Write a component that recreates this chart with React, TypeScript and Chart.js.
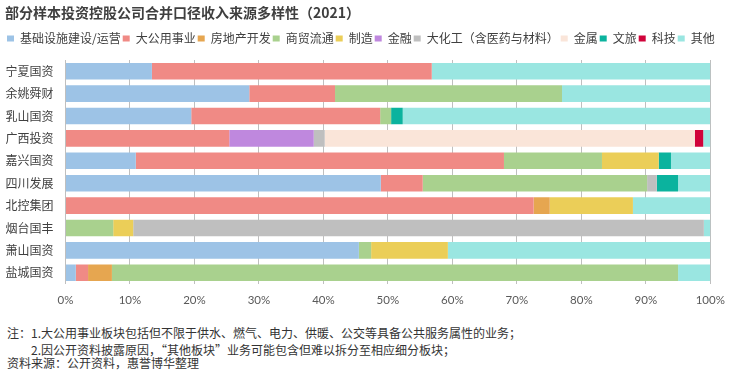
import React, { useEffect, useRef } from 'react';
import { Chart, registerables } from 'chart.js';

Chart.register(...registerables);

const TITLE = '部分样本投资控股公司合并口径收入来源多样性（2021）';

const categories = ['宁夏国资', '余姚舜财', '乳山国资', '广西投资', '嘉兴国资', '四川发展', '北控集团', '烟台国丰', '萧山国资', '盐城国资'];

const seriesNames = ['基础设施建设/运营', '大公用事业', '房地产开发', '商贸流通', '制造', '金融', '大化工（含医药与材料）', '金属', '文旅', '科技', '其他'];
const seriesColors = ['#9DC3E6', '#F08A85', '#E6A650', '#A9D18E', '#EBCE58', '#BF88DE', '#BFBFBF', '#FAE5D9', '#0BB39E', '#D0033A', '#9AE6E1'];

const infra = [13.4, 28.5, 19.5, 0, 10.9, 48.9, 0, 0, 45.5, 1.6];
const utilities = [43.4, 13.3, 29.3, 25.4, 57.1, 6.5, 72.6, 0, 0, 1.9];
const realEstate = [0, 0, 0, 0, 0, 0, 2.5, 0, 0, 3.7];
const trade = [0, 35.2, 1.7, 0, 15.2, 34.8, 0, 7.4, 1.9, 87.8];
const manufacturing = [0, 0, 0, 0, 8.8, 0, 12.9, 3.1, 11.9, 0];
const finance = [0, 0, 0, 13.1, 0, 0, 0, 0, 0, 0];
const chemicals = [0, 0, 0, 1.7, 0, 1.5, 0, 88.5, 0, 0];
const metals = [0, 0, 0, 57.4, 0, 0, 0, 0, 0, 0];
const tourism = [0, 0, 1.8, 0, 1.9, 3.3, 0, 0, 0, 0];
const technology = [0, 0, 0, 1.3, 0, 0, 0, 0, 0, 0];
const others = [43.2, 23.0, 47.7, 1.1, 6.1, 5.0, 12.0, 1.0, 40.7, 5.0];

const xTicks = [0, 10, 20, 30, 40, 50, 60, 70, 80, 90, 100];

const notes = [
  '1.大公用事业板块包括但不限于供水、燃气、电力、供暖、公交等具备公共服务属性的业务；',
  '2.因公开资料披露原因，“其他板块”业务可能包含但难以拆分至相应细分板块；',
];
const sourceText = '资料来源：公开资料，惠誉博华整理';

const CJK = '"Noto Sans CJK SC", "Microsoft YaHei", sans-serif';

const legendSpacer = {
  id: 'legendSpacer',
  beforeLayout(chart: any) {
    const lg = chart.legend;
    if (lg && !lg.__patched) {
      const orig = lg.fit.bind(lg);
      lg.fit = function () {
        orig();
        this.height += 5.5;
      };
      lg.__patched = true;
    }
  },
};

export default function App() {
  const ref = useRef<HTMLCanvasElement | null>(null);

  useEffect(() => {
    document.body.style.margin = '0';
    const seriesData = [infra, utilities, realEstate, trade, manufacturing, finance, chemicals, metals, tourism, technology, others];
    const chart = new Chart(ref.current as HTMLCanvasElement, {
      type: 'bar',
      data: {
        labels: categories,
        datasets: seriesNames.map((name, i) => ({
          label: name,
          data: seriesData[i],
          backgroundColor: seriesColors[i],
          borderWidth: 0,
          barPercentage: 0.74,
          categoryPercentage: 1,
        })),
      },
      options: {
        indexAxis: 'y',
        responsive: false,
        animation: false,
        layout: { padding: { left: 5, right: 8, top: 0, bottom: 6 } },
        plugins: {
          title: {
            display: true,
            text: TITLE,
            align: 'start',
            color: '#3F3F3F',
            font: { family: CJK, size: 14, weight: 'bold' },
            padding: { top: 4.6, bottom: 9.1 },
          },
          legend: {
            display: true,
            position: 'top',
            align: 'start',
            labels: {
              boxWidth: 7,
              boxHeight: 6,
              padding: 2,
              color: '#404040',
              font: { family: CJK, size: 12 },
            },
          },
          tooltip: { enabled: false },
        },
        scales: {
          x: {
            stacked: true,
            min: 0,
            max: 100,
            afterBuildTicks: (s: any) => {
              s.ticks = xTicks.map((v) => ({ value: v }));
            },
            afterFit: (s: any) => {
              s.height = 30;
            },
            grid: { color: '#BFBFBF', lineWidth: 1, drawTicks: false },
            border: { display: false },
            ticks: {
              padding: 9,
              color: '#595959',
              font: { family: 'Lato', size: 11.5 },
              callback: (v: any) => v + '%',
            },
          },
          y: {
            stacked: true,
            afterFit: (s: any) => {
              s.width = 60.5;
            },
            grid: { display: false, drawTicks: false },
            border: { display: false },
            ticks: {
              padding: 12,
              color: '#404040',
              font: { family: CJK, size: 12 },
            },
          },
          r: {
            type: 'linear',
            position: 'right',
            display: true,
            afterFit: (s: any) => {
              s.width = 19.7;
            },
            grid: { display: false, drawTicks: false },
            border: { display: false },
            ticks: { display: false },
          },
        },
      },
      plugins: [legendSpacer],
    } as any);
    return () => chart.destroy();
  }, []);

  const noteStyle: React.CSSProperties = {
    position: 'absolute',
    fontFamily: CJK,
    fontSize: 12,
    lineHeight: '16px',
    color: '#333333',
    whiteSpace: 'nowrap',
  };

  return (
    <div style={{ position: 'relative', width: 738, height: 375, background: '#fff' }}>
      <canvas ref={ref} width={738} height={320} style={{ position: 'absolute', left: 0, top: 0 }} />
      <div style={{ ...noteStyle, left: 7, top: 325 }}>注：</div>
      <div style={{ ...noteStyle, left: 31, top: 325 }}>{notes[0]}</div>
      <div style={{ ...noteStyle, left: 31, top: 342 }}>{notes[1]}</div>
      <div style={{ ...noteStyle, left: 7, top: 355 }}>{sourceText}</div>
    </div>
  );
}
